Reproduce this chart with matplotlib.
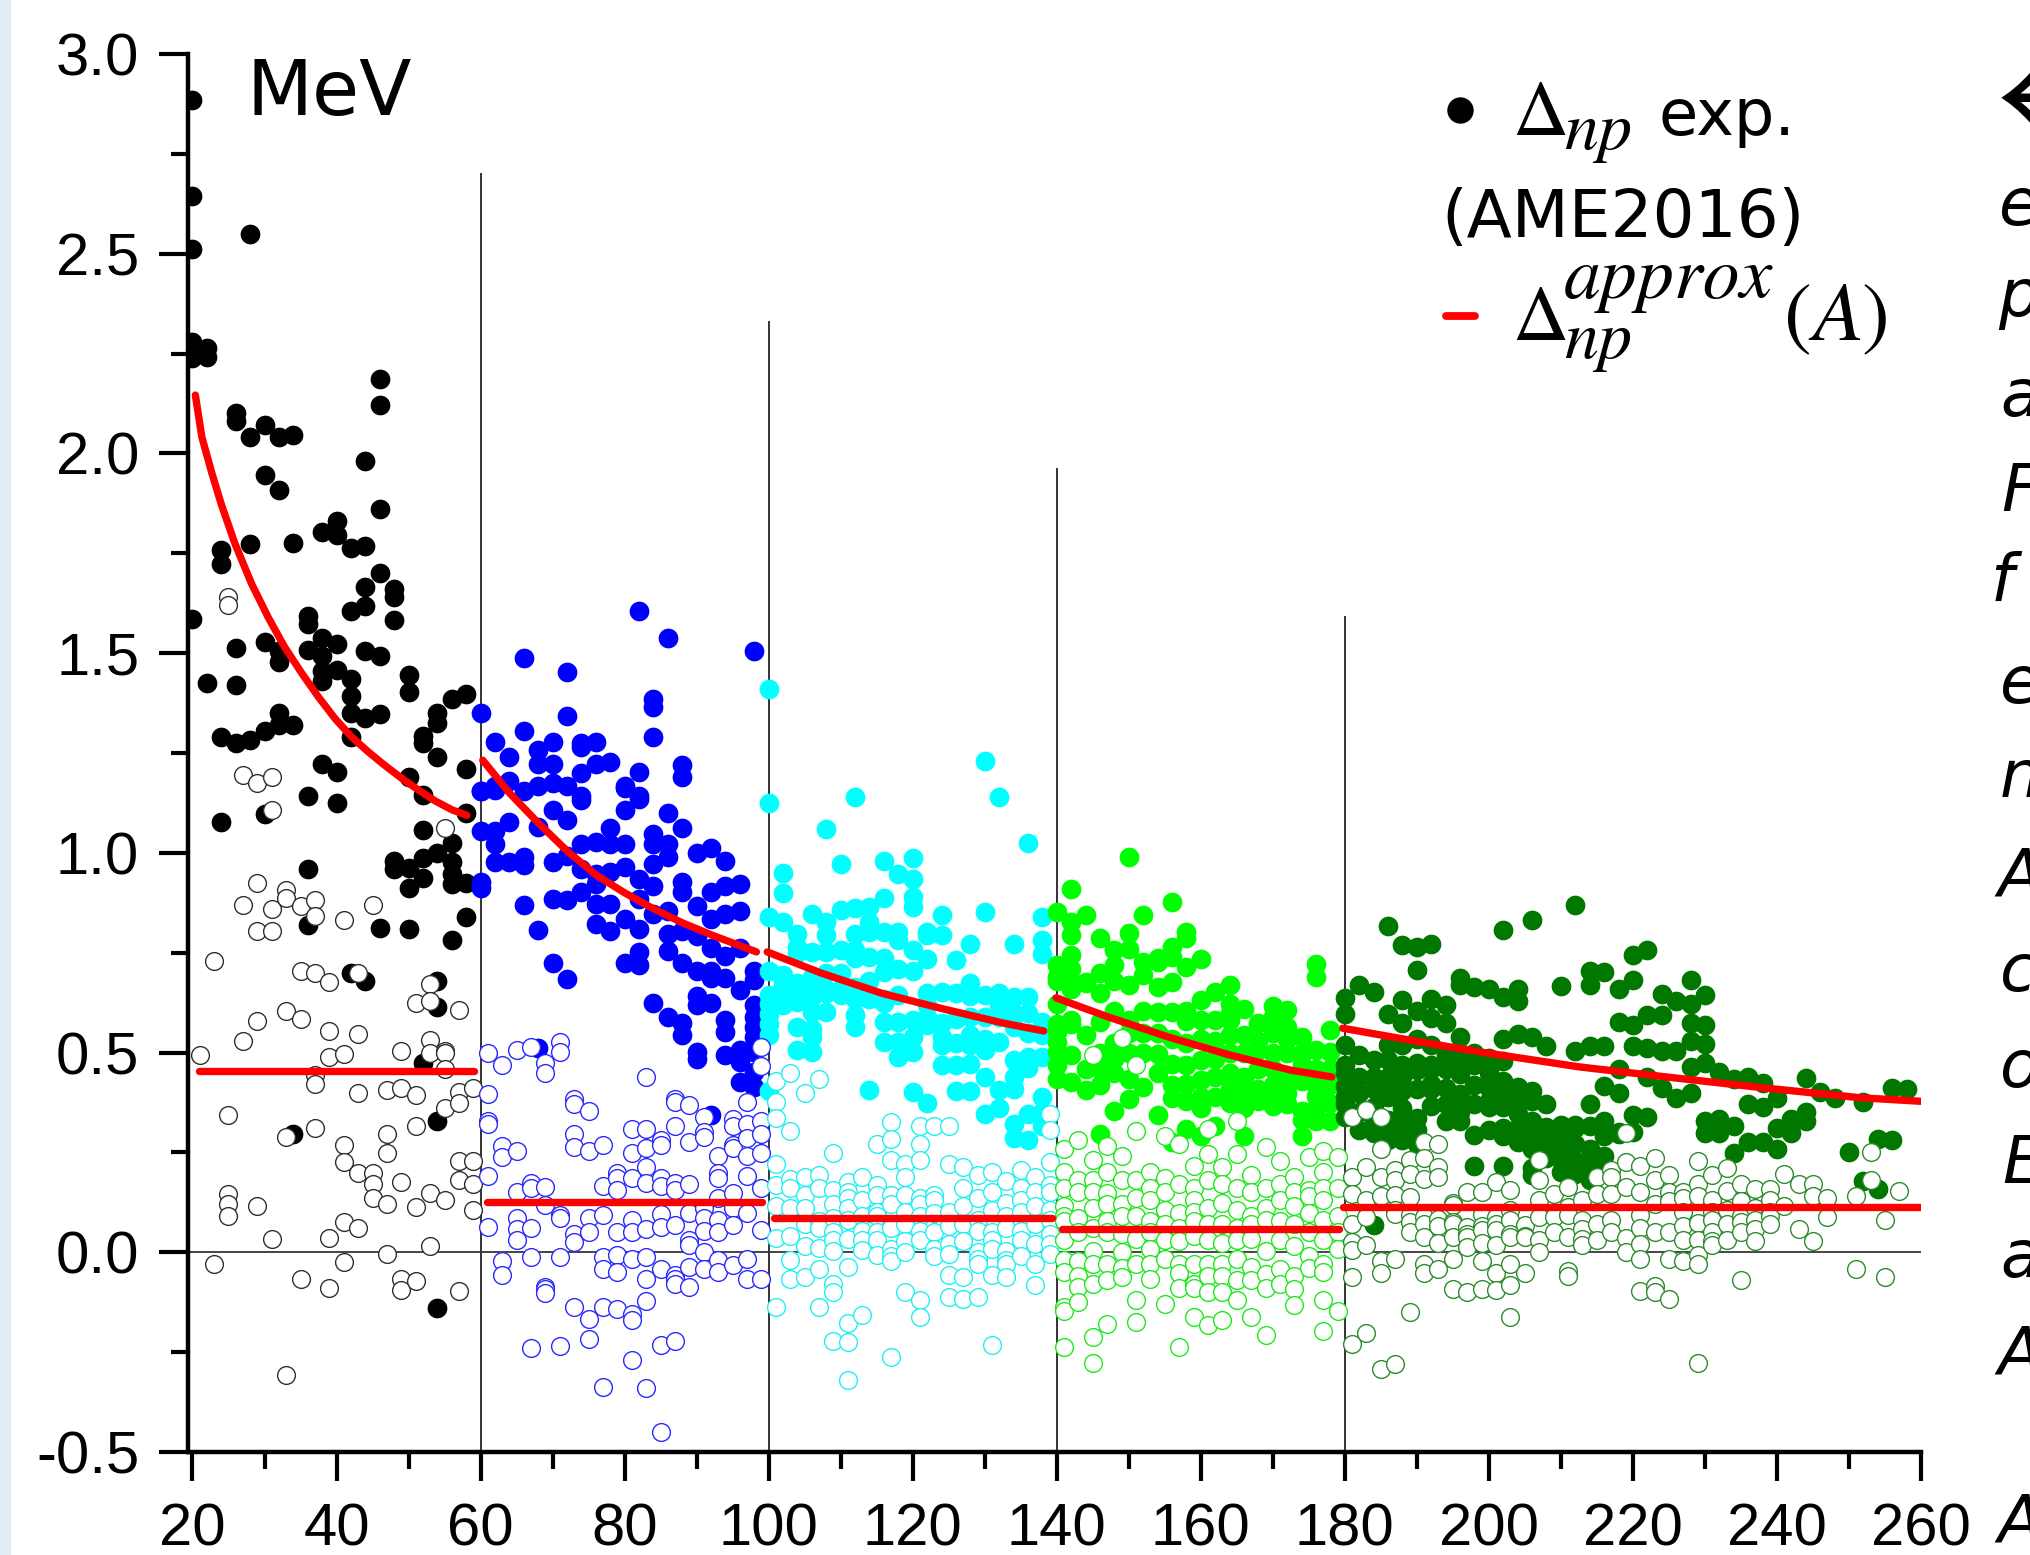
import matplotlib
matplotlib.use('Agg')
import matplotlib.pyplot as plt
from matplotlib.patches import Rectangle

W, H = 2031, 1555

# each entry: (A, [delta_np values])
black_even = [
    (20, [2.886, 2.644, 2.511, 2.278, 2.24, 1.585]), (22, [2.265, 2.242, 1.426]),
    (24, [1.758, 1.723, 1.29, 1.077]), (26, [2.10, 2.08, 1.513, 1.42, 1.274]),
    (28, [2.55, 2.04, 1.774, 1.283]), (30, [2.071, 1.946, 1.528, 1.305, 1.098]),
    (32, [2.042, 1.908, 1.506, 1.477, 1.35, 1.32]), (34, [2.045, 1.777, 1.32, 0.295]),
    (36, [1.593, 1.574, 1.509, 1.142, 0.96, 0.82]),
    (38, [1.804, 1.538, 1.494, 1.455, 1.43, 1.222]),
    (40, [1.832, 1.796, 1.522, 1.458, 1.203, 1.126]),
    (42, [1.764, 1.606, 1.436, 1.392, 1.35, 1.29, 0.70]),
    (44, [1.982, 1.768, 1.666, 1.619, 1.506, 1.337, 0.678]),
    (46, [2.186, 2.122, 1.861, 1.70, 1.494, 1.347, 0.813]),
    (48, [1.66, 1.64, 1.583, 0.98, 0.96]),
    (50, [1.445, 1.402, 1.191, 0.963, 0.913, 0.81]),
    (52, [1.292, 1.274, 1.145, 1.056, 0.988, 0.938, 0.474]),
    (54, [1.35, 1.324, 1.241, 1.0, 0.68, 0.613, 0.328, -0.139]),
    (56, [1.385, 1.025, 0.978, 0.947, 0.922, 0.783]),
    (58, [1.398, 1.21, 1.10, 0.925, 0.84]),
]
black_odd = [
    (21, [0.495]), (23, [0.73, -0.03]), (25, [1.64, 1.62, 0.343, 0.145, 0.12, 0.09]),
    (27, [1.195, 0.87, 0.53]), (29, [1.175, 0.925, 0.805, 0.58, 0.115]),
    (31, [1.19, 1.108, 0.86, 0.805, 0.033]), (33, [0.907, 0.887, 0.604, 0.288, -0.308]),
    (35, [0.866, 0.704, 0.585, -0.068]), (37, [0.881, 0.842, 0.70, 0.445, 0.422, 0.31]),
    (39, [0.676, 0.553, 0.49, 0.037, -0.09]),
    (41, [0.832, 0.497, 0.268, 0.226, 0.077, -0.025]),
    (43, [0.70, 0.547, 0.40, 0.198, 0.062]), (45, [0.87, 0.198, 0.171, 0.136]),
    (47, [0.406, 0.296, 0.248, 0.121, -0.004]),
    (49, [0.504, 0.412, 0.177, -0.068, -0.095]),
    (51, [0.625, 0.394, 0.316, 0.113, -0.073]),
    (53, [0.671, 0.629, 0.531, 0.50, 0.149, 0.016]),
    (55, [1.063, 0.504, 0.498, 0.46, 0.36, 0.132]),
    (57, [0.606, 0.402, 0.374, 0.229, 0.182, -0.098]),
    (59, [0.412, 0.229, 0.17, 0.105]),
]
blue_even = [
    (60, [1.349, 1.156, 1.155, 1.054, 0.928, 0.913]),
    (62, [1.277, 1.168, 1.157, 1.054, 1.021, 0.978]),
    (64, [1.241, 1.18, 1.077, 0.978]), (66, [1.487, 1.304, 1.156, 0.99, 0.969, 0.87]),
    (68, [1.258, 1.223, 1.168, 1.064, 0.808, 0.512]),
    (70, [1.277, 1.222, 1.175, 1.108, 0.978, 0.885, 0.724]),
    (72, [1.452, 1.343, 1.168, 1.083, 0.993, 0.881, 0.683]),
    (74, [1.274, 1.264, 1.2, 1.143, 1.132, 1.021, 0.959, 0.903]),
    (76, [1.277, 1.223, 1.027, 0.947, 0.922, 0.873, 0.823]),
    (78, [1.228, 1.062, 1.021, 0.953, 0.873, 0.804]),
    (80, [1.168, 1.163, 1.108, 1.021, 0.965, 0.835, 0.724]),
    (82, [1.606, 1.203, 1.143, 1.135, 0.934, 0.885, 0.81, 0.752, 0.72]),
    (84, [1.385, 1.366, 1.29, 1.046, 1.021, 0.972, 0.916, 0.848, 0.623]),
    (86, [1.538, 1.099, 1.021, 0.99, 0.854, 0.798, 0.755, 0.59]),
    (88, [1.219, 1.19, 1.062, 0.928, 0.903, 0.804, 0.724, 0.573, 0.545]),
    (90, [1.0, 0.866, 0.792, 0.705, 0.641, 0.619, 0.501, 0.483]),
    (92, [1.012, 0.903, 0.835, 0.761, 0.705, 0.687, 0.625, 0.344]),
    (94, [0.98, 0.916, 0.848, 0.743, 0.687, 0.582, 0.551, 0.495]),
    (96, [0.922, 0.854, 0.761, 0.656, 0.507, 0.476, 0.427]),
    (98, [1.505, 0.705, 0.681, 0.619, 0.588, 0.563, 0.538, 0.501, 0.452, 0.415]),
]
blue_odd = [
    (61, [0.5, 0.396, 0.328, 0.322, 0.192, 0.064]),
    (63, [0.47, 0.266, 0.239, -0.022, -0.056]),
    (65, [0.507, 0.254, 0.151, 0.087, 0.059, 0.031]),
    (67, [0.514, 0.173, 0.161, 0.062, -0.012, -0.239]),
    (69, [0.474, 0.448, 0.163, 0.118, -0.087, -0.093, -0.101]),
    (71, [0.526, 0.501, 0.093, 0.087, -0.012, -0.235]),
    (73, [0.384, 0.371, 0.297, 0.264, 0.046, 0.025, -0.136]),
    (75, [0.353, 0.254, 0.087, 0.05, -0.167, -0.217]),
    (77, [0.269, 0.167, 0.093, -0.012, -0.043, -0.136, -0.338]),
    (79, [0.198, 0.186, 0.155, 0.05, -0.006, -0.05, -0.142]),
    (81, [0.309, 0.248, 0.186, 0.08, 0.05, -0.016, -0.155, -0.17, -0.269]),
    (83, [0.439, 0.309, 0.26, 0.213, 0.173, 0.058, -0.012, -0.068, -0.121, -0.34]),
    (85, [0.281, 0.269, 0.186, 0.165, 0.095, 0.064, -0.041, -0.231, -0.449]),
    (87, [0.384, 0.377, 0.316, 0.173, 0.155, 0.068, -0.056, -0.068, -0.08, -0.223]),
    (89, [0.368, 0.276, 0.17, 0.099, 0.031, 0.019, -0.037, -0.087]),
    (91, [0.338, 0.301, 0.288, 0.111, 0.087, 0.053, 0.0, -0.043]),
    (93, [0.241, 0.198, 0.186, 0.136, 0.08, 0.05, -0.019, -0.05]),
    (95, [0.334, 0.316, 0.269, 0.26, 0.149, 0.111, 0.068, -0.031]),
    (97, [0.377, 0.322, 0.285, 0.241, 0.192, 0.099, -0.016, -0.066]),
    (99, [0.514, 0.467, 0.328, 0.297, 0.248, 0.161, 0.056, -0.066]),
]
cyan_even = [
    (100, [1.41, 1.126, 0.839, 0.705, 0.644, 0.622, 0.596, 0.571, 0.545, 0.405]),
    (102, [0.95, 0.90, 0.826, 0.694, 0.679, 0.664, 0.648, 0.619]),
    (104, [0.798, 0.765, 0.75, 0.673, 0.648, 0.627, 0.564, 0.507]),
    (106, [0.848, 0.752, 0.69, 0.66, 0.64, 0.602, 0.558, 0.539, 0.501]),
    (108, [1.06, 0.826, 0.794, 0.752, 0.698, 0.66, 0.648, 0.602]),
    (110, [0.973, 0.858, 0.756, 0.7, 0.66, 0.644]),
    (112, [1.139, 0.861, 0.798, 0.756, 0.737, 0.664, 0.635, 0.593, 0.564]),
    (114, [0.865, 0.826, 0.802, 0.74, 0.679, 0.635, 0.407]),
    (116, [0.98, 0.888, 0.801, 0.737, 0.702, 0.635, 0.623, 0.577, 0.526]),
    (118, [0.948, 0.802, 0.781, 0.71, 0.644, 0.577, 0.526, 0.489]),
    (120, [0.986, 0.935, 0.89, 0.865, 0.756, 0.705, 0.581, 0.539, 0.501, 0.401]),
    (122, [0.801, 0.794, 0.735, 0.648, 0.62, 0.59, 0.57, 0.373]),
    (124, [0.844, 0.794, 0.652, 0.573, 0.539, 0.52, 0.468]),
    (126, [0.731, 0.648, 0.585, 0.523, 0.47, 0.405]),
    (128, [0.773, 0.673, 0.641, 0.59, 0.545, 0.52, 0.472, 0.405]),
    (130, [1.229, 0.851, 0.644, 0.589, 0.535, 0.507, 0.439, 0.347]),
    (132, [1.139, 0.648, 0.62, 0.589, 0.527, 0.406, 0.36]),
    (134, [0.771, 0.639, 0.6, 0.564, 0.481, 0.439, 0.41, 0.322, 0.287]),
    (136, [1.024, 0.639, 0.6, 0.548, 0.489, 0.462, 0.347, 0.28]),
    (138, [0.84, 0.781, 0.748, 0.577, 0.545, 0.489, 0.389, 0.35, 0.315]),
]
cyan_odd = [
    (101, [0.43, 0.377, 0.335, 0.22, 0.169, 0.117, 0.037, -0.138]),
    (103, [0.45, 0.303, 0.184, 0.16, 0.111, 0.04, -0.02, -0.068]),
    (105, [0.398, 0.188, 0.143, 0.11, 0.07, 0.015, -0.061]),
    (107, [0.434, 0.194, 0.162, 0.079, 0.06, 0.01, -0.042, -0.138]),
    (109, [0.248, 0.156, 0.12, 0.086, 0.05, 0.03, 0.003, -0.08, -0.1, -0.221]),
    (111, [0.175, 0.15, 0.137, 0.11, 0.08, 0.034, -0.036, -0.176, -0.224, -0.32]),
    (113, [0.188, 0.13, 0.09, 0.054, 0.03, 0.006, -0.157]),
    (115, [0.271, 0.169, 0.143, 0.1, 0.09, 0.05, 0.03, -0.006]),
    (117, [0.326, 0.284, 0.232, 0.143, 0.12, 0.06, 0.009, -0.01, -0.023, -0.263]),
    (119, [0.22, 0.188, 0.143, 0.1, 0.07, 0.028, 0.0, -0.1]),
    (121, [0.315, 0.271, 0.232, 0.137, 0.12, 0.09, 0.054, 0.03, -0.119, -0.163]),
    (123, [0.315, 0.143, 0.13, 0.098, 0.05, 0.009, -0.01]),
    (125, [0.315, 0.22, 0.1, 0.066, 0.02, -0.004, -0.057, -0.112]),
    (127, [0.213, 0.16, 0.117, 0.07, 0.028, -0.061, -0.116]),
    (129, [0.194, 0.137, 0.08, 0.054, 0.0, -0.017, -0.03, -0.112]),
    (131, [0.2, 0.15, 0.105, 0.05, 0.03, 0.009, -0.057, -0.231]),
    (133, [0.178, 0.124, 0.09, 0.06, 0.003, -0.02, -0.03, -0.061]),
    (135, [0.207, 0.16, 0.13, 0.1, 0.054, 0.03, -0.01]),
    (137, [0.188, 0.15, 0.117, 0.07, 0.02, -0.029, -0.083]),
    (139, [0.347, 0.307, 0.226, 0.169, 0.15, 0.105, 0.08, 0.047, 0.02, -0.004]),
]
green_even = [
    (140, [0.851, 0.718, 0.689, 0.679, 0.622, 0.571, 0.552, 0.526, 0.501, 0.47, 0.435]),
    (142, [0.909, 0.826, 0.794, 0.744, 0.71, 0.68, 0.66, 0.581, 0.571, 0.494, 0.427]),
    (144, [0.845, 0.677, 0.673, 0.543, 0.46, 0.406]),
    (146, [0.788, 0.7, 0.648, 0.577, 0.5, 0.46, 0.42, 0.296]),
    (148, [0.756, 0.718, 0.679, 0.603, 0.523, 0.485, 0.45, 0.354]),
    (150, [0.989, 0.8, 0.76, 0.669, 0.581, 0.55, 0.5, 0.435, 0.385]),
    (152, [0.845, 0.727, 0.694, 0.603, 0.55, 0.5, 0.414]),
    (154, [0.737, 0.727, 0.664, 0.602, 0.55, 0.497, 0.45, 0.344]),
    (156, [0.877, 0.765, 0.74, 0.677, 0.602, 0.533, 0.472, 0.42, 0.386, 0.277]),
    (158, [0.803, 0.788, 0.715, 0.603, 0.58, 0.525, 0.47, 0.422, 0.38, 0.309]),
    (160, [0.735, 0.631, 0.581, 0.533, 0.481, 0.431, 0.39, 0.36, 0.29]),
    (162, [0.652, 0.581, 0.53, 0.485, 0.44, 0.389, 0.315]),
    (164, [0.669, 0.622, 0.6, 0.581, 0.545, 0.5, 0.45, 0.41, 0.373]),
    (166, [0.609, 0.545, 0.5, 0.44, 0.418, 0.38, 0.36, 0.29]),
    (168, [0.573, 0.53, 0.507, 0.46, 0.41, 0.38]),
    (170, [0.616, 0.589, 0.55, 0.5, 0.46, 0.42, 0.406, 0.367]),
    (172, [0.606, 0.564, 0.533, 0.5, 0.44, 0.398, 0.37]),
    (174, [0.539, 0.5, 0.47, 0.43, 0.354, 0.331, 0.29]),
    (176, [0.722, 0.688, 0.507, 0.46, 0.42, 0.392, 0.36, 0.328]),
    (178, [0.556, 0.501, 0.46, 0.42, 0.373, 0.328]),
]
green_odd = [
    (141, [0.258, 0.2, 0.16, 0.117, 0.09, 0.079, 0.03, -0.02, -0.049, -0.138, -0.147, -0.236]),
    (143, [0.28, 0.181, 0.15, 0.086, 0.05, -0.023, -0.06, -0.087, -0.125]),
    (145, [0.494, 0.232, 0.18, 0.152, 0.111, 0.06, 0.003, -0.03, -0.08, -0.211, -0.276]),
    (147, [0.267, 0.2, 0.149, 0.12, 0.079, 0.05, -0.029, -0.07, -0.18]),
    (149, [0.536, 0.241, 0.181, 0.12, 0.09, 0.047, 0.0, -0.04, -0.061]),
    (151, [0.469, 0.303, 0.18, 0.137, 0.09, 0.034, -0.03, -0.119, -0.174]),
    (153, [0.2, 0.16, 0.13, 0.079, 0.05, 0.009, -0.03, -0.068]),
    (155, [0.292, 0.185, 0.15, 0.105, 0.07, 0.03, -0.017, -0.129]),
    (157, [0.271, 0.17, 0.098, 0.06, 0.028, -0.03, -0.052, -0.09, -0.238]),
    (159, [0.216, 0.162, 0.13, 0.1, 0.079, 0.04, -0.03, -0.08, -0.09, -0.163]),
    (161, [0.309, 0.245, 0.18, 0.111, 0.07, 0.03, -0.029, -0.06, -0.1, -0.183]),
    (163, [0.213, 0.17, 0.124, 0.07, 0.022, -0.03, -0.06, -0.1, -0.17]),
    (165, [0.328, 0.245, 0.162, 0.105, 0.06, 0.03, -0.017, -0.07, -0.119]),
    (167, [0.194, 0.15, 0.09, 0.07, 0.034, -0.036, -0.07, -0.163]),
    (169, [0.264, 0.162, 0.11, 0.08, 0.003, -0.055, -0.09, -0.208]),
    (171, [0.229, 0.17, 0.13, 0.079, 0.03, -0.042, -0.08]),
    (173, [0.188, 0.15, 0.117, 0.07, 0.015, -0.06, -0.093, -0.132]),
    (175, [0.239, 0.156, 0.14, 0.098, 0.05, -0.01, -0.04]),
    (177, [0.254, 0.2, 0.16, 0.13, 0.08, 0.03, -0.03, -0.049, -0.119, -0.198]),
    (179, [0.239, 0.16, 0.092, 0.05, 0.009, -0.147]),
]
dgreen_even = [
    (180, [0.636, 0.596, 0.518, 0.47, 0.45, 0.417, 0.39, 0.37, 0.339]),
    (182, [0.669, 0.493, 0.44, 0.399, 0.35, 0.305]),
    (184, [0.651, 0.481, 0.44, 0.408, 0.364, 0.33, 0.299, 0.068]),
    (186, [0.816, 0.596, 0.52, 0.481, 0.44, 0.411, 0.39, 0.33, 0.3, 0.282]),
    (188, [0.769, 0.631, 0.575, 0.52, 0.469, 0.44, 0.405, 0.36, 0.32, 0.282]),
    (190, [0.765, 0.707, 0.604, 0.535, 0.475, 0.456, 0.41, 0.335, 0.305, 0.27]),
    (192, [0.771, 0.634, 0.587, 0.52, 0.47, 0.458, 0.422, 0.41, 0.366]),
    (194, [0.619, 0.575, 0.493, 0.46, 0.411, 0.37, 0.329]),
    (196, [0.687, 0.669, 0.54, 0.5, 0.464, 0.447, 0.397, 0.387, 0.35, 0.329]),
    (198, [0.663, 0.5, 0.469, 0.42, 0.37, 0.293, 0.217]),
    (200, [0.66, 0.487, 0.46, 0.45, 0.411, 0.38, 0.364, 0.305]),
    (202, [0.808, 0.64, 0.534, 0.48, 0.428, 0.4, 0.364, 0.31, 0.29, 0.217]),
    (204, [0.66, 0.628, 0.546, 0.415, 0.387, 0.347, 0.31, 0.276]),
    (206, [0.833, 0.538, 0.405, 0.38, 0.329, 0.3, 0.258, 0.21, 0.194]),
    (208, [0.516, 0.372, 0.314, 0.305, 0.27, 0.235]),
    (210, [0.667, 0.318, 0.299, 0.28, 0.258, 0.23, 0.2]),
    (212, [0.869, 0.505, 0.318, 0.311, 0.27, 0.229, 0.197]),
    (214, [0.704, 0.669, 0.516, 0.37, 0.317, 0.258, 0.22, 0.182]),
    (216, [0.702, 0.516, 0.417, 0.329, 0.29, 0.241, 0.21]),
    (218, [0.66, 0.577, 0.458, 0.399, 0.3, 0.296]),
    (220, [0.745, 0.681, 0.569, 0.516, 0.343, 0.3]),
    (222, [0.757, 0.593, 0.511, 0.44, 0.338]), (224, [0.646, 0.593, 0.505, 0.411]),
    (226, [0.628, 0.505, 0.387]), (228, [0.681, 0.622, 0.573, 0.528, 0.464, 0.399]),
    (230, [0.643, 0.569, 0.522, 0.475, 0.329, 0.299]), (232, [0.452, 0.334, 0.299]),
    (234, [0.434, 0.317, 0.249]), (236, [0.44, 0.37, 0.276]), (238, [0.423, 0.364, 0.276]),
    (240, [0.387, 0.311, 0.258]), (242, [0.334, 0.299]), (244, [0.437, 0.352, 0.329]),
    (246, [0.401]), (248, [0.387]), (250, [0.252]), (252, [0.376, 0.178]),
    (254, [0.284, 0.158]), (256, [0.411, 0.282]), (258, [0.408]),
]
dgreen_odd = [
    (181, [0.339, 0.189, 0.147, 0.07, 0.026, 0.006, -0.061, -0.229]),
    (183, [0.356, 0.214, 0.131, 0.088, 0.018, -0.203]),
    (185, [0.339, 0.258, 0.189, 0.141, -0.021, -0.053, -0.293]),
    (187, [0.205, 0.18, 0.143, 0.106, 0.097, -0.018, -0.279]),
    (189, [0.23, 0.197, 0.139, 0.093, 0.076, 0.051, -0.149]),
    (191, [0.276, 0.235, 0.184, 0.088, 0.07, 0.038, -0.029, -0.053]),
    (193, [0.27, 0.214, 0.189, 0.084, 0.065, 0.022, -0.041]),
    (195, [0.123, 0.118, 0.076, 0.072, 0.038, -0.018, -0.092]),
    (197, [0.151, 0.063, 0.047, 0.038, 0.013, -0.1]),
    (199, [0.151, 0.097, 0.065, 0.055, 0.022, -0.023, -0.092]),
    (201, [0.176, 0.088, 0.07, 0.055, 0.018, -0.053, -0.094]),
    (203, [0.155, 0.105, 0.08, 0.047, 0.038, -0.029, -0.082, -0.162]),
    (205, [0.068, 0.041, 0.038, -0.053]),
    (207, [0.23, 0.18, 0.13, 0.088, 0.03, 0.0]), (209, [0.147, 0.088, 0.05]),
    (211, [0.164, 0.114, 0.094, 0.038, -0.047, -0.059]),
    (213, [0.13, 0.08, 0.059, 0.034, 0.018]), (215, [0.189, 0.147, 0.072, 0.03]),
    (217, [0.205, 0.189, 0.147, 0.08, 0.05]),
    (219, [0.299, 0.226, 0.164, 0.035, 0.0]),
    (221, [0.217, 0.15, 0.094, 0.06, 0.02, -0.018, -0.096]),
    (223, [0.235, 0.182, 0.12, 0.05, -0.085, -0.1]),
    (225, [0.194, 0.15, 0.129, 0.05, -0.018, -0.117]),
    (227, [0.15, 0.135, 0.1, 0.065, 0.03, -0.023]),
    (229, [0.229, 0.17, 0.14, 0.073, 0.03, -0.006, -0.029, -0.276]),
    (231, [0.194, 0.13, 0.1, 0.082, 0.05, 0.029, 0.018]),
    (233, [0.211, 0.153, 0.106, 0.07, 0.03]),
    (235, [0.17, 0.129, 0.09, 0.076, 0.05, -0.07]),
    (237, [0.158, 0.11, 0.08, 0.059, 0.029]),
    (239, [0.158, 0.13, 0.1, 0.09, 0.07]), (241, [0.197, 0.117]), (243, [0.17, 0.059]),
    (245, [0.17, 0.141, 0.029]), (247, [0.137, 0.088]), (251, [0.141, -0.041]),
    (253, [0.252, 0.182]), (255, [0.082, -0.061]), (257, [0.153]),
]

# red curves, read point by point
curve_x = [
    [20.4, 21.3, 22.7, 24.05, 25.9, 28.2, 30.5, 32.8, 35.2, 37.5, 39.8, 42.1, 44.4, 46.7, 49.1,
     51.4, 53.7, 56, 58.1],
    [60.3, 64, 68, 72, 76, 80, 84, 88, 92, 98.3],
    [99.8, 107.3, 115.8, 124.3, 132.8, 138.2],
    [139.9, 147, 155.5, 164, 172.5, 178.2],
    [179.7, 190, 199.7, 212.6, 225.6, 238.5, 251.5, 260],
]
curve_y = [
    [2.146, 2.041, 1.95, 1.87, 1.774, 1.674, 1.59, 1.515, 1.449, 1.39, 1.336, 1.29, 1.253, 1.219,
     1.186, 1.157, 1.13, 1.108, 1.094],
    [1.232, 1.15, 1.075, 1.005, 0.945, 0.9, 0.86, 0.825, 0.795, 0.752],
    [0.752, 0.699, 0.648, 0.609, 0.573, 0.554],
    [0.637, 0.59, 0.539, 0.494, 0.456, 0.439],
    [0.561, 0.528, 0.499, 0.464, 0.437, 0.411, 0.387, 0.378],
]
flat_x = [(20.9, 59.1), (60.9, 99.1), (100.7, 139.3), (140.7, 179.2), (179.7, 260)]
flat_y = [0.453, 0.127, 0.0856, 0.059, 0.114]

sep_x = [60, 100, 140, 180]
sep_top = [2.70, 2.33, 1.96, 1.59]

y_ticks = [-0.5, 0.0, 0.5, 1.0, 1.5, 2.0, 2.5, 3.0]
y_minor = [-0.25, 0.25, 0.75, 1.25, 1.75, 2.25, 2.75]
x_ticks = list(range(20, 261, 20))
x_minor = list(range(30, 251, 20))

side_letters = [('e', 1999, 225), ('p', 1998, 316), ('a', 2000, 416), ('F', 2001, 511),
                ('f', 1991, 601), ('e', 2000, 703), ('n', 2000, 797), ('A', 1997, 895),
                ('c', 2000, 991), ('o', 2000, 1087), ('E', 2002, 1183), ('a', 2000, 1277),
                ('A', 1997, 1373), ('A', 1997, 1542)]


def flat(groups):
    xs, ys = [], []
    for a, vals in groups:
        xs += [a] * len(vals)
        ys += vals
    return xs, ys


def fx(px):
    return px / W


def fy(px):
    return 1 - px / H


fig = plt.figure(figsize=(W / 100, H / 100), dpi=100)
fig.patches.append(Rectangle((0, 0), fx(11), 1, transform=fig.transFigure, color='#e4ecf4', lw=0))

ax = fig.add_axes([fx(187.8), fy(1452), fx(1921 - 187.8), fy(54) - fy(1452)])
ax.set_xlim(19.35, 260)
ax.set_ylim(-0.5, 3.0)

ax.axhline(0, color='#444444', lw=1.4, zorder=1)
for x, top in zip(sep_x, sep_top):
    ax.plot([x, x], [-0.5, top], color='#333333', lw=1.4, zorder=1)

sets = [(black_even, black_odd, '#000000', '#303030'),
        (blue_even, blue_odd, '#0000ff', '#2a2aff'),
        (cyan_even, cyan_odd, '#00ffff', '#20f0f0'),
        (green_even, green_odd, '#00ff00', '#20e820'),
        (dgreen_even, dgreen_odd, '#007800', '#2e8b2e')]
z = 2
for even, odd, col, edge in sets:
    xs, ys = flat(even)
    ax.plot(xs, ys, 'o', ms=14.2, mfc=col, mec=col, mew=0, zorder=z)
    z += 1
for even, odd, col, edge in sets:
    xs, ys = flat(odd)
    ax.plot(xs, ys, 'o', ms=12.8, mfc='white', mec=edge, mew=1.0, zorder=z)
    z += 1

for xs, ys in zip(curve_x, curve_y):
    ax.plot(xs, ys, color='#ff0000', lw=5.3, solid_capstyle='round', zorder=20)
for (x0, x1), v in zip(flat_x, flat_y):
    ax.plot([x0, x1], [v, v], color='#ff0000', lw=5.3, solid_capstyle='round', zorder=20)

for s in ['top', 'right']:
    ax.spines[s].set_visible(False)
for s in ['left', 'bottom']:
    ax.spines[s].set_linewidth(3.2)

ax.set_xticks(x_ticks)
ax.set_xticks(x_minor, minor=True)
ax.set_yticks(y_ticks)
ax.set_yticks(y_minor, minor=True)
ax.set_xticklabels([str(v) for v in x_ticks], fontfamily='Liberation Sans', fontsize=43)
ax.set_yticklabels(['%.1f' % v for v in y_ticks], fontfamily='Liberation Sans', fontsize=43)
ax.tick_params(which='major', length=21, width=3)
ax.tick_params(which='minor', length=12, width=3)
ax.tick_params(axis='x', which='major', pad=15)
ax.tick_params(axis='y', which='major', pad=14)

fig.text(fx(247), fy(115), 'MeV', fontsize=55, family='DejaVu Sans')

# legend pieces
fig.text(fx(1512), fy(135), '\u0394', fontsize=56, family='STIXGeneral')
fig.text(fx(1564), fy(149), 'np', fontsize=49, family='STIXGeneral', style='italic')
fig.text(fx(1659), fy(135), 'exp.', fontsize=46, family='DejaVu Sans')
fig.text(fx(1441), fy(237), '(AME2016)', fontsize=47.5, family='DejaVu Sans')
fig.text(fx(1512), fy(340), '\u0394', fontsize=56, family='STIXGeneral')
fig.text(fx(1564), fy(298), 'approx', fontsize=53, family='STIXGeneral', style='italic')
fig.text(fx(1564), fy(358), 'np', fontsize=49, family='STIXGeneral', style='italic')
fig.text(fx(1784), fy(340), '(', fontsize=60, family='STIXGeneral')
fig.text(fx(1812), fy(340), 'A', fontsize=60, family='STIXGeneral', style='italic')
fig.text(fx(1862), fy(340), ')', fontsize=60, family='STIXGeneral')
ax.plot([fx(1460)], [fy(110)], 'o', ms=18, color='black', transform=fig.transFigure, clip_on=False)
ax.plot([fx(1446), fx(1475)], [fy(316), fy(316)], color='#ff0000', lw=5.6, transform=fig.transFigure,
        clip_on=False, solid_capstyle='round')

fig.text(fx(1997), fy(145), '\u2190', fontsize=90, family='Noto Sans CJK SC')
for ch, px, py in side_letters:
    fig.text(fx(px), fy(py), ch, fontsize=47, family='DejaVu Sans', style='italic')

fig.savefig('out.png', dpi=100)
